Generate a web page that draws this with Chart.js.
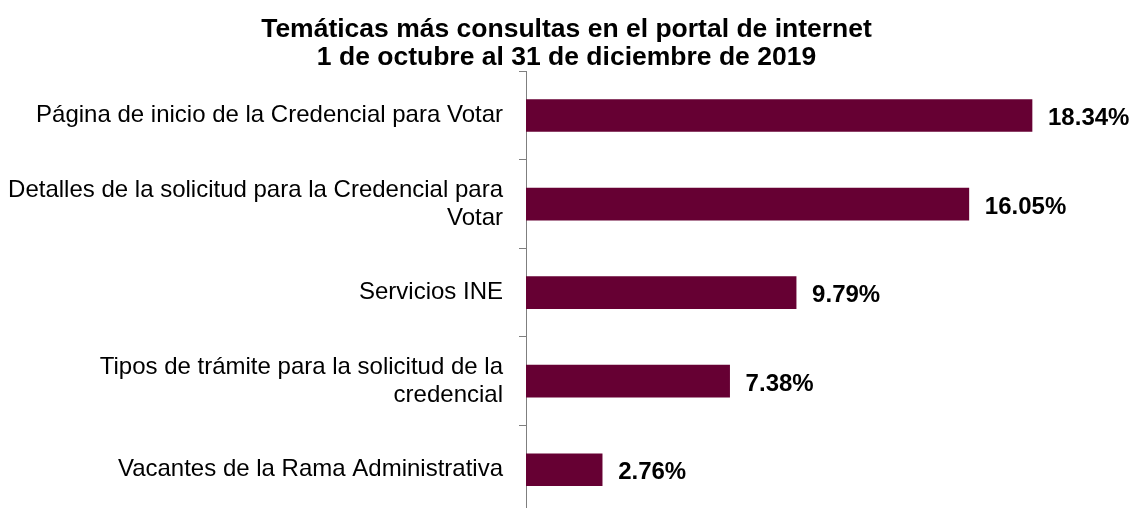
<!DOCTYPE html>
<html>
<head>
<meta charset="utf-8">
<script src="https://cdn.jsdelivr.net/npm/chart.js@4.4.1/dist/chart.umd.min.js"></script>
<style>
  html, body { margin: 0; padding: 0; background: #fff; overflow: hidden; }
  canvas { display: block; }
</style>
</head>
<body>
<canvas id="myChart" width="1133" height="514"></canvas>
<script>
// data
const categories = [
  'Página de inicio de la Credencial para Votar',
  ['Detalles de la solicitud para la Credencial para', 'Votar'],
  'Servicios INE',
  ['Tipos de trámite para la solicitud de la', 'credencial'],
  'Vacantes de la Rama Administrativa'
];
const percentages = [18.34, 16.05, 9.79, 7.38, 2.76];

// labels at the end of each bar
const barLabels = {
  id: 'barLabels',
  afterDatasetsDraw(chart) {
    const ctx = chart.ctx;
    const meta = chart.getDatasetMeta(0);
    ctx.save();
    ctx.font = 'bold 24px "Liberation Sans", Arial, sans-serif';
    ctx.fillStyle = '#000';
    ctx.textAlign = 'left';
    ctx.textBaseline = 'middle';
    meta.data.forEach((bar, i) => {
      ctx.fillText(percentages[i].toFixed(2) + '%', bar.x + 16, bar.y + 3);
    });
    ctx.restore();
  }
};

const data = {
  labels: categories,
  datasets: [{
    data: percentages,
    backgroundColor: '#660033',
    borderWidth: 0,
    barThickness: 32
  }]
};

const config = {
  type: 'bar',
  data,
  options: {
    indexAxis: 'y',
    responsive: false,
    animation: false,
    devicePixelRatio: 1,
    layout: { padding: 0 },
    plugins: {
      legend: { display: false },
      tooltip: { enabled: false },
      title: {
        display: true,
        text: ['Temáticas más consultas en el portal de internet', '1 de octubre al 31 de diciembre de 2019'],
        color: '#000',
        font: { family: '"Liberation Sans", Arial, sans-serif', size: 26.5, weight: 'bold', lineHeight: 1.08 },
        padding: { top: 15, bottom: -1 }
      }
    },
    scales: {
      x: {
        display: false,
        min: 0,
        max: 22
      },
      y: {
        afterFit(scale) {
          scale.width = 526;
          scale.paddingTop = 0;
          scale.paddingBottom = 0;
        },
        border: { display: true, color: '#7f7f7f', width: 1 },
        grid: {
          display: true,
          offset: true,
          drawOnChartArea: false,
          drawTicks: true,
          tickLength: 7,
          color: '#7f7f7f'
        },
        ticks: {
          color: '#000',
          padding: 16,
          font: { family: '"Liberation Sans", Arial, sans-serif', size: 24, lineHeight: 1.17 }
        }
      }
    }
  },
  plugins: [barLabels]
};

const myChart = new Chart(document.getElementById('myChart'), config);
</script>
</body>
</html>
